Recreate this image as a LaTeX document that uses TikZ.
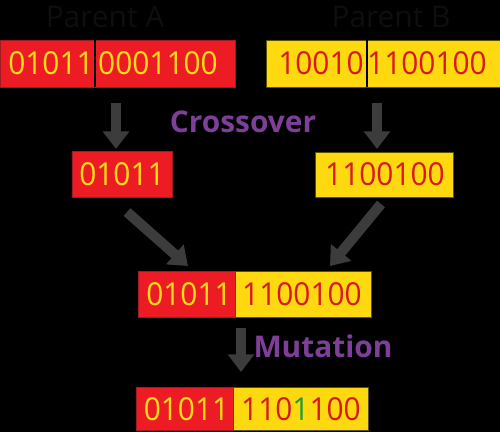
\documentclass[tikz,border=0pt]{standalone}
\usepackage{fontspec}
\setmainfont{Open Sans}
\usetikzlibrary{arrows.meta}
\definecolor{bred}{HTML}{ED1C24}
\definecolor{bredd}{HTML}{9E1B1F}
\definecolor{byel}{HTML}{FFD90F}
\definecolor{byeld}{HTML}{5A5000}
\definecolor{tyel}{HTML}{FFDE17}
\definecolor{tred}{HTML}{D7191F}
\definecolor{agray}{HTML}{3C3C3C}
\definecolor{purp}{HTML}{7E3F98}
\definecolor{tgreen}{HTML}{1E9E3A}
\definecolor{ptext}{HTML}{0E0E0E}
\begin{document}
\begin{tikzpicture}[x=0.02cm,y=-0.02cm,
  rbox/.style={draw=bredd,fill=bred,line width=0.5pt},
  ybox/.style={draw=byeld,fill=byel,line width=0.5pt},
  bits/.style={font=\fontsize{17}{20}\selectfont,inner sep=0pt,yscale=1.06},
  ybits/.style={bits,text=tyel},
  rbits/.style={bits,text=tred},
  label/.style={font=\fontsize{17}{20}\selectfont\bfseries,text=purp,inner sep=0pt},
  title/.style={font=\fontsize{17}{20}\selectfont,text=ptext,inner sep=0pt},
  arr/.style={draw=agray,line width=5.8pt,-{Triangle[width=14.5pt,length=10pt]}}]
\useasboundingbox (0,0) rectangle (500,432);
\fill[black] (0,0) rectangle (500,432);
% titles
\node[title] (tA) at (105,17) {Parent A};
\node[title] (tB) at (391,17) {Parent B};
% Parent A
\path[rbox] (0,40) rectangle (95,87);
\path[rbox] (95,40) rectangle (235,87);
\coordinate (Adiv1) at (95,40);
\coordinate (Adiv2) at (95,87);
\draw[black,line width=0.6pt] (Adiv1) -- (Adiv2);
\node[ybits] (A1) at (51,63.5) {01011};
\node[ybits] (A2) at (158,63.5) {0001100};
% Parent B
\path[ybox] (266,40) rectangle (367,87);
\path[ybox] (367,40) rectangle (505,87);
\coordinate (Bdiv1) at (367,40);
\coordinate (Bdiv2) at (367,87);
\draw[black,line width=0.6pt] (Bdiv1) -- (Bdiv2);
\node[rbits] (B1) at (321,63.5) {10010};
\node[rbits] (B2) at (427,63.5) {1100100};
% children
\path[rbox] (72,151) rectangle (172,197);
\node[ybits] (C1) at (122,174) {01011};
\path[ybox] (315,152) rectangle (453,197);
\node[rbits] (C2) at (385,174.5) {1100100};
% crossover label
\node[label] (cross) at (243,122) {Crossover};
% combined
\path[rbox] (138,271) rectangle (235,317);
\path[ybox] (235,271) rectangle (371,317);
\node[ybits] (D1) at (189,294) {01011};
\node[rbits] (D2) at (302,294) {1100100};
% mutation label
\node[label] (mut) at (323,346) {Mutation};
% final
\path[rbox] (136,387) rectangle (233,430);
\path[ybox] (233,387) rectangle (368,430);
\node[ybits] (E1) at (186.5,409) {01011};
\node[rbits] (E2) at (301,409) {110\textcolor{tgreen}{1}100};
% arrows
\coordinate (a1s) at (116,103); \coordinate (a1e) at (116,149);
\coordinate (a2s) at (377,103); \coordinate (a2e) at (377,149);
\coordinate (a3s) at (127,212); \coordinate (a3e) at (188,266);
\coordinate (a4s) at (381,204); \coordinate (a4e) at (330,266);
\coordinate (a5s) at (241,328); \coordinate (a5e) at (241,372);
\draw[arr] (a1s) -- (a1e);
\draw[arr] (a2s) -- (a2e);
\draw[arr] (a3s) -- (a3e);
\draw[arr] (a4s) -- (a4e);
\draw[arr] (a5s) -- (a5e);
\end{tikzpicture}
\end{document}
